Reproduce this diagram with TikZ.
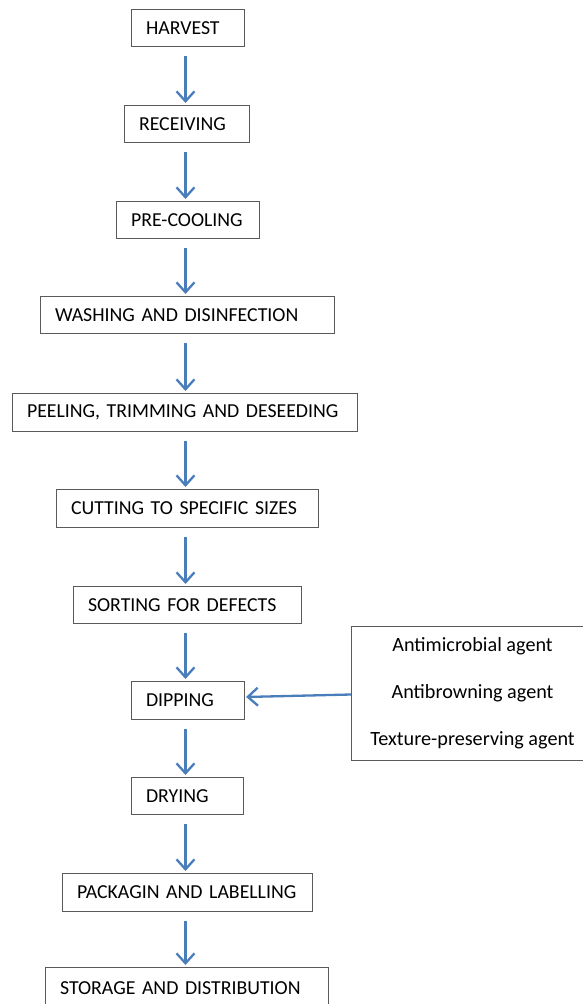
\documentclass[tikz,border=0pt]{standalone}
\usepackage{fontspec}
\setmainfont{Carlito}
\usetikzlibrary{arrows.meta}
\definecolor{arrblue}{RGB}{74,126,187}
\definecolor{boxgray}{RGB}{90,90,90}
\tikzset{
  stepbox/.style={draw=boxgray, line width=1.1pt, anchor=north west, minimum height=37pt,
    inner xsep=14.5pt, inner ysep=0pt, align=left, font=\fontsize{19.8pt}{23pt}\selectfont, text=black},
  flowarr/.style={draw=arrblue, line width=2.3pt, -{Straight Barb[length=10pt,width=18pt,line width=2.3pt]},
    shorten <=9pt, shorten >=2pt},
}
\begin{document}
\begin{tikzpicture}[x=1pt,y=-1pt]
\useasboundingbox (0,0) rectangle (583,1004);
\coordinate (ax) at (185.5,0);
\node[stepbox, text width=84pt]  (n1)  at (131,9)   {HARVEST};
\node[stepbox, text width=96pt]  (n2)  at (124,105) {RECEIVING};
\node[stepbox, text width=114pt] (n3)  at (116,201) {PRE-COOLING};
\node[stepbox, text width=265pt] (n4)  at (40,296)  {WASHING AND DISINFECTION};
\node[stepbox, text width=316pt, minimum height=38pt] (n5)  at (12,393)  {PEELING, TRIMMING AND DESEEDING};
\node[stepbox, text width=233pt, minimum height=38pt] (n6)  at (56,489)  {CUTTING TO SPECIFIC SIZES};
\node[stepbox, text width=199pt] (n7)  at (73,586)  {SORTING FOR DEFECTS};
\node[stepbox, text width=84pt, minimum height=38pt]  (n8)  at (131,681) {DIPPING};
\node[stepbox, text width=83pt]  (n9)  at (131,777) {DRYING};
\node[stepbox, text width=221pt, minimum height=38pt] (n10) at (62,873)  {PACKAGIN AND LABELLING};
\node[stepbox, text width=254pt, minimum height=42pt] (n11) at (45,967)  {STORAGE AND DISTRIBUTION};
\node[draw=boxgray, line width=1.1pt, anchor=north west, minimum width=242pt, minimum height=134pt,
  align=center, font=\fontsize{20.2pt}{47pt}\selectfont, text=black] (ag) at (351,626)
  {Antimicrobial agent\\Antibrowning agent\\Texture-preserving agent};
\foreach \a/\b in {n1/n2,n2/n3,n3/n4,n4/n5,n5/n6,n6/n7,n7/n8,n8/n9,n9/n10,n10/n11}
  \draw[flowarr] (\a.south -| ax) -- (\b.north -| ax);
\draw[flowarr, shorten <=0pt, shorten >=1pt] (ag.west |- 0,694.5) -- (n8.east |- 0,697);
\end{tikzpicture}
\end{document}
